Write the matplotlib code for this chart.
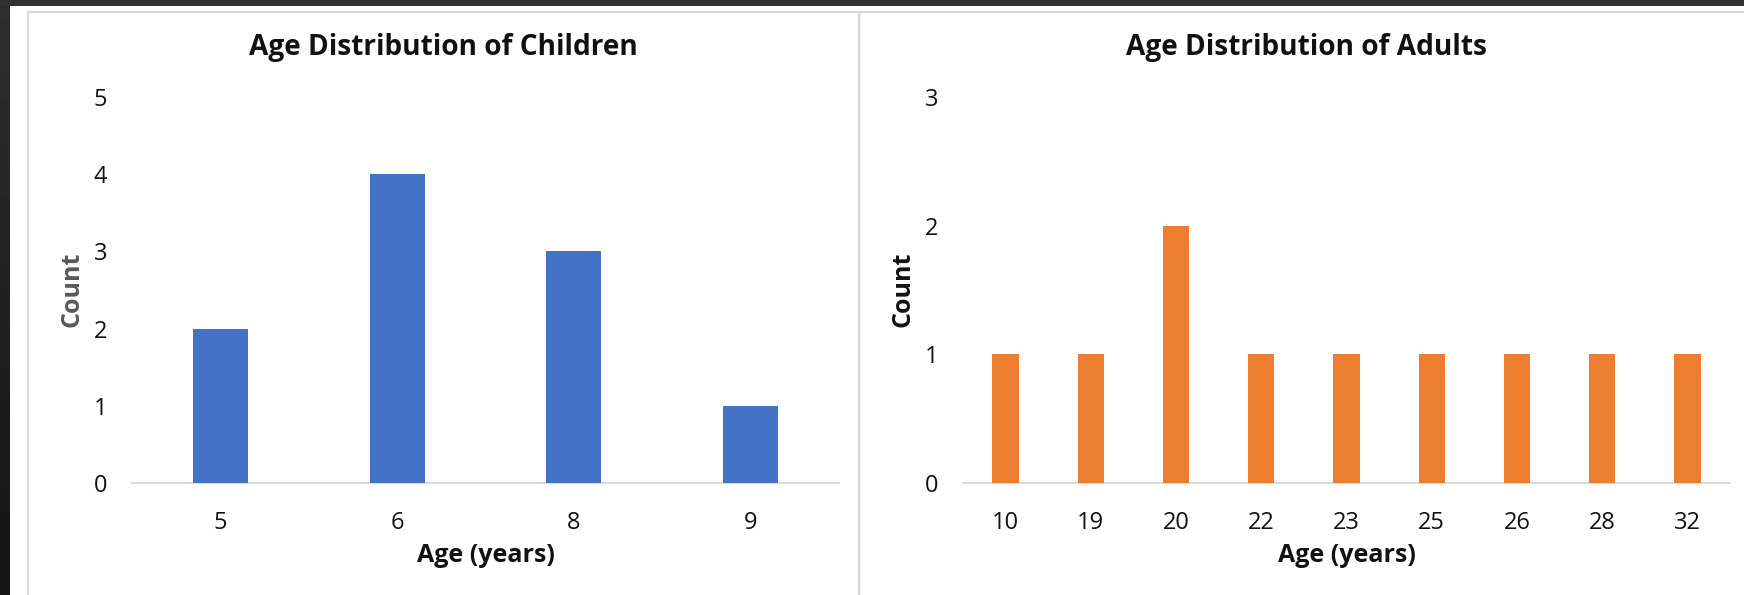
import matplotlib
matplotlib.use("Agg")
import matplotlib.pyplot as plt
import numpy as np
from matplotlib.patches import Rectangle

# Age counts
child_ages = ["5", "6", "8", "9"]
child_counts = [2, 4, 3, 1]
adult_ages = ["10", "19", "20", "22", "23", "25", "26", "28", "32"]
adult_counts = [1, 1, 2, 1, 1, 1, 1, 1, 1]

child_yticks = [0, 1, 2, 3, 4, 5]
adult_yticks = [0, 1, 2, 3]

plt.rcParams["font.family"] = ["Open Sans", "DejaVu Sans"]

W, H = 1744, 595
fig = plt.figure(figsize=(W / 100, H / 100), dpi=100, facecolor="#323232")


def fx(px):
    return px / W


def fy(py):
    return 1 - py / H


# window frame: dark strip on the left fading downwards, white sheet
grad = fig.add_axes([0, 0, fx(10), fy(6)], zorder=-3)
grad.imshow(np.linspace(0.18, 0.08, 50).reshape(-1, 1), cmap="gray", vmin=0, vmax=1,
            aspect="auto", extent=[0, 1, 0, 1])
grad.axis("off")
fig.patches.append(Rectangle((fx(10), 0), 1 - fx(10), fy(6), transform=fig.transFigure,
                             facecolor="white", edgecolor="none", zorder=-2))
# chart panel borders
for x0, x1 in [(28, 859), (859, 1760)]:
    fig.patches.append(Rectangle((fx(x0), fy(700)), fx(x1 - x0), fy(12) - fy(700),
                                 transform=fig.transFigure, facecolor="none",
                                 edgecolor="#d9d9d9", linewidth=1.6, zorder=-1))


def draw_panel(left, right, cats, counts, yticks, color, title, title_x, ylabel_x, ylabel_color):
    ax = fig.add_axes([fx(left), fy(483), fx(right - left), fy(97) - fy(483)], zorder=1)
    ax.set_facecolor("none")
    pos = np.arange(len(cats))
    ax.bar(pos, counts, width=0.31, color=color, zorder=2)
    ax.set_xlim(-0.5, len(cats) - 0.5)
    ax.set_ylim(yticks[0], yticks[-1])
    ax.set_xticks(pos, cats)
    ax.set_yticks(yticks)
    ax.tick_params(length=0, labelsize=17, labelcolor="#111111")
    ax.tick_params(axis="y", pad=18)
    ax.tick_params(axis="x", pad=20)
    for s in ["top", "right", "left"]:
        ax.spines[s].set_visible(False)
    ax.spines["bottom"].set_color("#d9d9d9")
    ax.spines["bottom"].set_linewidth(1.4)
    ax.spines["bottom"].set_zorder(1)
    fig.text(fx(title_x), fy(47), title, ha="center", va="center",
             fontsize=20.2, fontweight="bold", color="#111111")
    fig.text(fx(ylabel_x), fy(289), "Count", ha="center", va="center", rotation=90,
             fontsize=18, fontweight="bold", color=ylabel_color)
    fig.text(fx((left + right) / 2), fy(556), "Age (years)", ha="center", va="center",
             fontsize=18, fontweight="bold", color="#111111")
    return ax


draw_panel(132, 839, child_ages, child_counts, child_yticks, "#4472C4",
           "Age Distribution of Children", 443, 72, "#595959")
draw_panel(963, 1730, adult_ages, adult_counts, adult_yticks, "#ED7D31",
           "Age Distribution of Adults", 1306, 903, "#111111")

fig.savefig("out.png", dpi=100, facecolor=fig.get_facecolor())
